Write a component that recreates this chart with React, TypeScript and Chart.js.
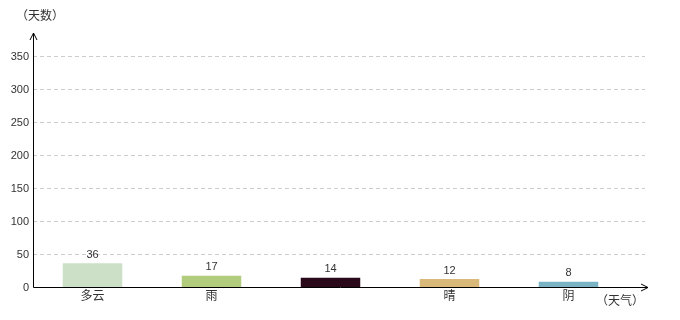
import React, { useEffect, useRef } from "react";
import { Chart, registerables } from "chart.js";

Chart.register(...registerables);

const categories = ["多云", "雨", "", "晴", "阴"];
const values = [36, 17, 14, 12, 8];
const barColors = ["#cce0c8", "#b2cc7e", "#2a0a1a", "#d9b979", "#7ab4c4"];
const yTicks = [0, 50, 100, 150, 200, 250, 300, 350];
const yTitle = "（天数）";
const xTitle = "（天气）";

const FONT_NUM = "11px 'Liberation Sans', 'DejaVu Sans', sans-serif";
const FONT_CJK = "12px 'Noto Sans CJK SC', sans-serif";

const decor = {
  id: "decor",
  beforeDatasetsDraw(chart: any) {
    const ctx = chart.ctx;
    const { left, top, bottom } = chart.chartArea;
    const y = chart.scales.y;
    const gridRight = 645;
    ctx.save();
    // grid lines
    ctx.strokeStyle = "#cccccc";
    ctx.lineWidth = 1;
    ctx.setLineDash([4, 3]);
    for (const t of yTicks) {
      if (t === 0) continue;
      const py = Math.round(y.getPixelForValue(t)) + 0.5;
      ctx.beginPath();
      ctx.moveTo(left, py);
      ctx.lineTo(gridRight, py);
      ctx.stroke();
    }
    ctx.setLineDash([]);
    // tick labels
    ctx.fillStyle = "#333333";
    ctx.font = FONT_NUM;
    ctx.textAlign = "right";
    ctx.textBaseline = "middle";
    for (const t of yTicks) {
      const py = Math.round(y.getPixelForValue(t));
      ctx.fillText(String(t), left - 4, py + 1);
    }
    ctx.restore();
  },
  afterDatasetsDraw(chart: any) {
    const ctx = chart.ctx;
    const { left, bottom } = chart.chartArea;
    const meta = chart.getDatasetMeta(0);
    ctx.save();
    // axes
    ctx.strokeStyle = "#000000";
    ctx.lineWidth = 1;
    const ax = Math.round(left) + 0.5;
    const ay = Math.round(bottom) + 0.5;
    ctx.beginPath();
    ctx.moveTo(ax, ay);
    ctx.lineTo(ax, 33);
    ctx.moveTo(ax - 3.5, 40);
    ctx.lineTo(ax, 33);
    ctx.lineTo(ax + 3.5, 40);
    ctx.stroke();
    ctx.beginPath();
    ctx.moveTo(ax, ay);
    ctx.lineTo(648, ay);
    ctx.moveTo(641, ay - 3.5);
    ctx.lineTo(648, ay);
    ctx.lineTo(641, ay + 3.5);
    ctx.stroke();
    // value labels and category labels
    meta.data.forEach((bar: any, i: number) => {
      ctx.fillStyle = "#333333";
      ctx.font = FONT_NUM;
      ctx.textAlign = "center";
      ctx.textBaseline = "bottom";
      ctx.fillText(String(values[i]), bar.x, bar.y - 3);
      ctx.font = FONT_CJK;
      ctx.textBaseline = "top";
      ctx.fillText(categories[i], bar.x, bottom + 2);
    });
    // titles
    ctx.font = FONT_CJK;
    ctx.fillStyle = "#333333";
    ctx.textAlign = "left";
    ctx.textBaseline = "middle";
    ctx.fillText(yTitle, 16, 15);
    ctx.fillText(xTitle, 596, 300);
    ctx.restore();
  },
};

export default function App() {
  const ref = useRef<HTMLCanvasElement>(null);
  useEffect(() => {
    document.body.style.margin = "0";
    const chart = new Chart(ref.current!, {
      type: "bar",
      data: {
        labels: categories,
        datasets: [
          {
            data: values,
            backgroundColor: barColors,
            barPercentage: 0.5,
            categoryPercentage: 1,
          },
        ],
      },
      options: {
        responsive: false,
        animation: false,
        layout: { padding: { left: 33, right: 52, top: 56, bottom: 33 } },
        plugins: { legend: { display: false }, tooltip: { enabled: false } },
        scales: {
          x: { display: false },
          y: { display: false, min: 0, max: 350 },
        },
      },
      plugins: [decor],
    });
    return () => chart.destroy();
  }, []);
  return (
    <div style={{ position: "absolute", left: 0, top: 0, width: 680, height: 320 }}>
      <canvas ref={ref} width={680} height={320} />
    </div>
  );
}
